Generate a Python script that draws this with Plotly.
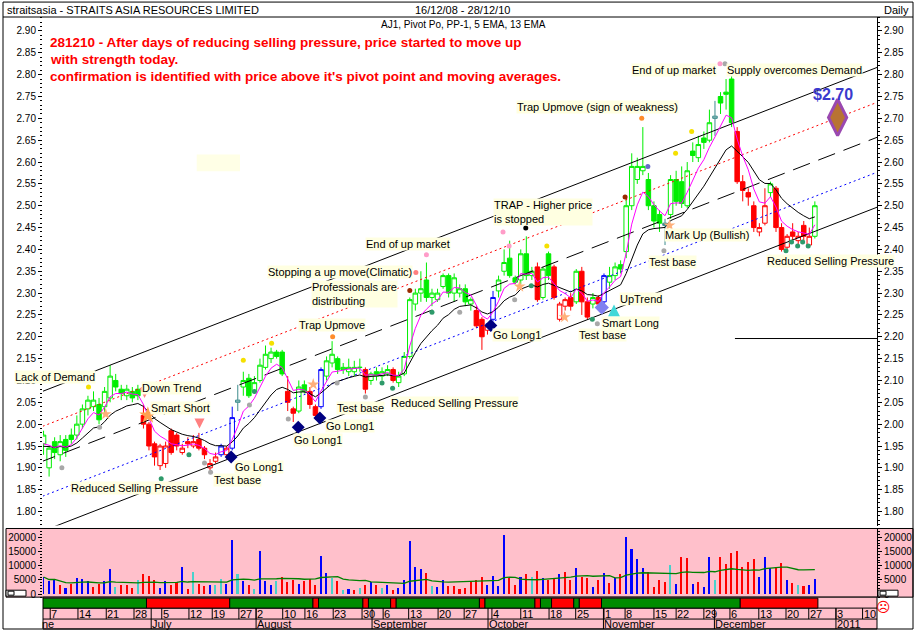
import plotly.graph_objects as go
import pandas as pd

# ---------------- data (candle index 0 = early June 2010 ... 140 = 28 Dec 2010)
opens = [1.915, 1.955, 1.90, 1.96, 1.93, 1.965, 1.975, 1.975, 2.00, 2.035,
         2.04, 2.045, 2.04, 2.06, 2.10, 2.08, 2.065, 2.075, 2.08, 2.02,
         2.00, 1.955, 1.905, 1.91, 1.985, 1.975, 1.935, 1.96, 1.95, 1.965,
         1.945, 1.90, 1.915, 1.93, 1.93, 1.945, 2.05, 2.085, 2.105, 2.075,
         2.10, 2.13, 2.15, 2.165, 2.165, 2.075, 2.035, 2.03, 2.09, 2.075,
         2.04, 2.04, 2.11, 2.14, 2.15, 2.125, 2.12, 2.12, 2.13, 2.125,
         2.10, 2.12, 2.11, 2.115, 2.125, 2.095, 2.115, 2.155, 2.275, 2.30,
         2.33, 2.29, 2.285, 2.315, 2.34, 2.30, 2.30, 2.31, 2.275, 2.26,
         2.24, 2.215, 2.24, 2.305, 2.35, 2.38, 2.335, 2.33, 2.39, 2.34,
         2.36, 2.29, 2.39, 2.36, 2.24, 2.27, 2.29, 2.28, 2.35, 2.28,
         2.275, 2.29, 2.28, 2.325, 2.34, 2.365, 2.395, 2.50, 2.56, 2.58,
         2.56, 2.50, 2.48, 2.46, 2.48, 2.56, 2.555, 2.50, 2.625, 2.61,
         2.655, 2.65, 2.70, 2.75, 2.76, 2.79, 2.67, 2.555, 2.53, 2.50,
         2.44, 2.46, 2.53, 2.54, 2.45, 2.405, 2.44, 2.42, 2.455, 2.41,
         2.43]
highs = [1.95, 1.985, 1.95, 1.97, 1.975, 1.975, 1.99, 2.02, 2.045, 2.065,
         2.075, 2.06, 2.085, 2.135, 2.115, 2.09, 2.09, 2.085, 2.09, 2.045,
         2.005, 1.96, 1.955, 1.96, 1.99, 1.98, 1.955, 1.97, 1.975, 1.98,
         1.95, 1.92, 1.935, 1.955, 1.95, 2.04, 2.09, 2.12, 2.115, 2.11,
         2.15, 2.18, 2.175, 2.17, 2.17, 2.11, 2.04, 2.10, 2.10, 2.085,
         2.045, 2.13, 2.155, 2.19, 2.155, 2.14, 2.15, 2.145, 2.15, 2.13,
         2.12, 2.13, 2.13, 2.135, 2.13, 2.12, 2.165, 2.29, 2.31, 2.35,
         2.37, 2.31, 2.31, 2.345, 2.345, 2.345, 2.32, 2.32, 2.29, 2.27,
         2.245, 2.23, 2.305, 2.34, 2.40, 2.42, 2.34, 2.40, 2.43, 2.36,
         2.37, 2.36, 2.395, 2.365, 2.28, 2.29, 2.30, 2.355, 2.36, 2.29,
         2.30, 2.295, 2.345, 2.36, 2.37, 2.375, 2.515, 2.62, 2.61, 2.68,
         2.575, 2.51, 2.49, 2.47, 2.57, 2.58, 2.59, 2.60, 2.645, 2.66,
         2.67, 2.72, 2.74, 2.76, 2.79, 2.82, 2.68, 2.57, 2.54, 2.51,
         2.46, 2.54, 2.555, 2.545, 2.46, 2.435, 2.46, 2.44, 2.465, 2.45,
         2.51]
lows = [1.905, 1.93, 1.88, 1.92, 1.915, 1.925, 1.955, 1.965, 1.99, 2.02,
        2.03, 2.00, 2.025, 2.05, 2.075, 2.055, 2.055, 2.05, 2.055, 1.99,
        1.94, 1.905, 1.895, 1.90, 1.93, 1.94, 1.93, 1.945, 1.945, 1.94,
        1.92, 1.895, 1.91, 1.925, 1.92, 1.94, 2.03, 2.065, 2.06, 2.07,
        2.095, 2.125, 2.14, 2.15, 2.11, 2.03, 2.005, 2.025, 2.07, 2.035,
        2.01, 2.035, 2.10, 2.13, 2.115, 2.115, 2.11, 2.11, 2.12, 2.07,
        2.09, 2.10, 2.10, 2.11, 2.095, 2.085, 2.11, 2.15, 2.26, 2.28,
        2.28, 2.27, 2.28, 2.31, 2.29, 2.28, 2.29, 2.27, 2.26, 2.22,
        2.17, 2.205, 2.235, 2.29, 2.34, 2.335, 2.32, 2.32, 2.33, 2.33,
        2.28, 2.285, 2.33, 2.285, 2.235, 2.26, 2.26, 2.275, 2.25, 2.24,
        2.265, 2.265, 2.275, 2.31, 2.33, 2.345, 2.38, 2.49, 2.55, 2.57,
        2.49, 2.45, 2.44, 2.41, 2.47, 2.50, 2.495, 2.495, 2.60, 2.60,
        2.63, 2.645, 2.66, 2.71, 2.72, 2.68, 2.55, 2.51, 2.50, 2.44,
        2.43, 2.455, 2.52, 2.44, 2.395, 2.40, 2.42, 2.41, 2.42, 2.405,
        2.425]
closes = [1.945, 1.975, 1.945, 1.935, 1.96, 1.94, 1.965, 2.00, 2.035, 2.055,
          2.055, 2.01, 2.075, 2.11, 2.085, 2.07, 2.08, 2.06, 2.065, 2.00,
          1.95, 1.925, 1.95, 1.95, 1.935, 1.95, 1.945, 1.955, 1.96, 1.945,
          1.93, 1.91, 1.925, 1.95, 1.945, 2.015, 2.055, 2.10, 2.065, 2.095,
          2.135, 2.16, 2.165, 2.155, 2.115, 2.05, 2.025, 2.085, 2.075, 2.045,
          2.02, 2.125, 2.145, 2.16, 2.125, 2.13, 2.13, 2.13, 2.13, 2.08,
          2.115, 2.11, 2.12, 2.125, 2.10, 2.11, 2.155, 2.285, 2.30, 2.31,
          2.29, 2.30, 2.30, 2.34, 2.30, 2.335, 2.31, 2.28, 2.285, 2.225,
          2.20, 2.225, 2.29, 2.33, 2.37, 2.34, 2.325, 2.39, 2.34, 2.35,
          2.285, 2.355, 2.34, 2.29, 2.275, 2.285, 2.27, 2.35, 2.28, 2.245,
          2.29, 2.275, 2.34, 2.34, 2.36, 2.355, 2.50, 2.59, 2.59, 2.59,
          2.50, 2.465, 2.46, 2.455, 2.56, 2.51, 2.505, 2.58, 2.615, 2.64,
          2.645, 2.69, 2.705, 2.735, 2.755, 2.69, 2.555, 2.535, 2.52, 2.45,
          2.45, 2.50, 2.55, 2.45, 2.40, 2.43, 2.43, 2.43, 2.43, 2.43,
          2.50]
candle_group = ("b" + "g" * 18 + "r" * 14 + "b" + "r" + "b" + "t" + "g" * 8 + "r" * 2
                + "g" * 2 + "r" * 2 + "b" + "g" * 7 + "r" + "g" * 4 + "r" + "g" * 14
                + "r" * 3 + "b" + "g" * 7 + "r" + "g" * 2 + "r" * 4 + "g" + "r" * 2
                + "g" + "r" + "b" + "g" * 10 + "t" + "g" * 8 + "t" + "g" * 3 + "r" * 6
                + "g" + "r" * 7 + "g")

volume = [None, 6050, 4300, 5200, 2900, 2000, 3250, 5450, 5100, 4300, 2300,
          3250, 4300, 8700, 2200, 2900, 2900, 2000, 4900, 7000, 6400,
          4900, 2000, 4300, 3100, 4000, 9500, 1600, 7800, 3500, 2550,
          3100, 3100, 5200, 3500, 18800, 7000, 4300, 3100, 1750, 15100,
          4300, 3100, 4300, 6000, 4000, 4650, 3500, 4300, 5100, 3100,
          13300, 7450, 5450, 4300, 1400, 1600, 1150, 2000, 3100, 4000,
          3100, 2000, 2900, 1400, 2000, 4900, 18600, 9300, 8600, 7450,
          2550, 2200, 4650, 2550, 2550, 1600, 2000, 4000, 4900, 6000,
          2900, 6400, 2550, 20800, 5700, 3100, 6000, 7000, 6000, 8100,
          5450, 4650, 5700, 6850, 7800, 4650, 9200, 6000, 5450, 2200,
          4650, 7450, 3700, 5700, 7000, 20000, 15600, 12100, 8950, 7800,
          2300, 4650, 4000, 10100, 3400, 13000, 12700, 3250, 4000, 2300,
          12800, 4650, 13000, 10300, 14400, 15100, 9500, 11300, 12400, 6000,
          12800, 8950, 9300, 10900, 4650, 3700, 2900, 2550, 2900, 5100]
volume_group = ("-" + "bbbrbrbbbr" + "rbbcrrrcrr" + "rbbrrbrcrr" + "bccbbcbrcb"
                + "bbcrrrbrrr" + "bbcrcbrcrb" + "rcbrbbbbbr" + "cbbrrrrrrr"
                + "bbbbrrbrcr" + "brrbrrbrrb" + "rbrbrbbbbr" + "rrrcbrrbrb"
                + "bcrrrrrrrb" + "bbrrbrcrbb")

trend = ("-" + "g" * 19 + "r" * 15 + "g" * 15 + "r" + "g" * 8 + "r" + "g" * 4 + "r"
         + "g" * 15 + "r" + "g" * 9 + "r" + "g" * 2 + "r" * 4 + "g" + "r" * 4
         + "g" * 25 + "r" * 14)

assert len(opens) == len(highs) == len(lows) == len(closes) == 141
assert len(candle_group) == 141 and len(volume) == 141 and len(volume_group) == 141 and len(trend) == 141

# regression channel (centre line end points) and band offsets
channel_x = [0.0, 151.7]
channel_mid = [1.911, 2.659]
channel_offsets = [0.16, 0.08, 0.0, -0.08, -0.16]
pivot_level = 2.196
pivot_from = 125.6

# signal markers
sig_x = [9.1, 37, 42.1, 91.7, 114.9, 117.8,
         4.3, 11.1, 30, 31.1, 38.1, 45.1, 53.9, 59, 76, 85.9, 100.8, 112.8, 123.8,
         22.2, 27.2, 39, 62, 63.9, 71, 88.9, 99.9, 134.8, 135.8, 136.9, 137.8, 138.8,
         53.1, 108.8,
         12.2, 49.6, 86.8, 94.9, 113.8,
         83.8, 84.9, 70, 122.9, 68.1, 67, 105.8, 87.9, 109.9]
sig_y = [2.085, 2.146, 2.185, 2.408, 2.62, 2.67,
         1.90, 1.993, 1.911, 1.89, 2.044, 2.012, 2.094, 2.062, 2.256, 2.285, 2.23, 2.397, 2.825,
         1.875, 1.93, 2.075, 2.094, 2.082, 2.256, 2.317, 2.24, 2.397, 2.417, 2.408, 2.417, 2.408,
         2.20, 2.70,
         2.023, 2.091, 2.315, 2.245, 2.455,
         2.44, 2.408, 2.388, 2.825, 2.347, 2.306, 2.52, 2.449, 2.59]
sig_kind = (["yellow"] * 6 + ["gray"] * 13 + ["green"] * 13 + ["orange"] * 2
            + ["star"] * 5 + ["pink"] * 4 + ["salmon"] + ["darkred"] * 2 + ["black"] + ["slate"])

golong_x = [34.8, 46.9, 50.8, 81.6]
golong_y = [1.925, 1.993, 2.014, 2.226]
smartlong_x, smartlong_y = [101.6], [2.267]
uptrend_x, uptrend_y = [103.8], [2.274]
downarrow_x, downarrow_y = [19.2, 29.1], [2.06, 1.99]
smartshort_x, smartshort_y = [19.8], [2.02]
target_x, target_y = [144.1], [2.702]

labels = [
    ("Lack of Demand", 3.1, 2.109), ("Down Trend", 24.1, 2.082), ("Smart Short", 25.6, 2.037),
    ("Reduced Selling Pressure", 17.3, 1.854), ("Test base", 36.0, 1.873), ("Go Long1", 39.8, 1.902),
    ("Go Long1", 50.5, 1.964), ("Go Long1", 56.2, 1.996), ("Test base", 58.2, 2.037),
    ("Reduced Selling Pressure", 75.1, 2.048), ("Trap Upmove", 53.0, 2.228),
    ("Professionals are<br>distributing", 57.1, 2.299),
    ("Stopping a up move(Climatic)", 54.4, 2.349), ("End of up market", 66.7, 2.413),
    ("TRAP - Higher price<br>is stopped", 91.0, 2.485), ("Go Long1", 86.3, 2.205),
    ("Test base", 101.8, 2.203), ("Smart Long", 106.8, 2.232), ("UpTrend", 108.6, 2.287),
    ("Test base", 114.4, 2.372), ("Mark Up (Bullish)", 120.5, 2.433),
    ("Trap Upmove (sign of weakness)", 100.9, 2.725), ("End of up market", 114.6, 2.811),
    ("Supply overcomes Demand", 136.4, 2.811), ("Reduced Selling Pressure", 142.9, 2.374),
]
comment_lines = [
    "281210 - After days of reducing selling pressure, price started to move up",
    "with strength today.",
    "confirmation is identified with price above it's pivot point and moving averages.",
]
day_tick_pos = [2.2, 7.2, 12.3, 17.3, 22.3, 27.2, 31.4, 36.2, 39.3, 44.1, 48.1, 53.2, 58.4, 62.2,
                66.8, 72.1, 76.8, 81.8, 87.0, 92.1, 96.9, 102.0, 105.8, 111.0, 115.0, 120.0,
                124.7, 129.9, 134.8, 138.9, 143.8, 148.6]
day_tick_text = ["7", "14", "21", "28", "5", "12", "19", "27", "2", "10", "16", "23", "30", "6",
                 "13", "20", "27", "4", "11", "18", "25", "1", "8", "15", "22", "29",
                 "6", "13", "20", "27", "3", "10"]
month_pos = [20.4, 39.3, 60.2, 81.1, 101.9, 121.9, 143.8]
month_text = ["July", "August", "September", "October", "November", "December", "2011"]
vol_ticks = [0, 5000, 10000, 15000, 20000]

# ---------------- figure
XMIN, XMAX = 0.9, 151.2
W, H, L, R, T, B = 917, 634, 43, 40, 17, 2
PW, PH = W - L - R, H - T - B


def px(xp):
    return (xp - L) / PW


def py(yp):
    return (H - B - yp) / PH


FONT = "Liberation Sans"
fig = go.Figure()

styles = [("black", "solid"), ("red", "2px,3px"), ("black", "18px,9px"), ("blue", "2px,3px"), ("black", "solid")]
for off, (col, dash) in zip(channel_offsets, styles):
    fig.add_trace(go.Scatter(x=channel_x, y=[channel_mid[0] + off, channel_mid[1] + off], mode="lines",
                             line=dict(color=col, width=1, dash=dash), hoverinfo="skip"))
fig.add_trace(go.Scatter(x=[pivot_from, XMAX], y=[pivot_level, pivot_level], mode="lines",
                         line=dict(color="black", width=1), hoverinfo="skip"))

group_colors = {"g": "#00EE00", "r": "#FF0000", "b": "#0000FF", "t": "#3C8C8C"}
for code, col in group_colors.items():
    ids = [i for i, c in enumerate(candle_group) if c == code]
    fig.add_trace(go.Candlestick(
        x=ids, open=[opens[i] for i in ids], high=[highs[i] for i in ids],
        low=[lows[i] for i in ids], close=[closes[i] for i in ids],
        increasing=dict(line=dict(color=col, width=1), fillcolor="white"),
        decreasing=dict(line=dict(color=col, width=1), fillcolor=col),
        whiskerwidth=0, hoverinfo="skip"))

cs = pd.Series(closes)
ema5 = cs.ewm(span=5, adjust=False).mean()
ema13 = cs.ewm(span=13, adjust=False).mean()
xs = list(range(len(closes)))
fig.add_trace(go.Scatter(x=xs, y=ema13, mode="lines", line=dict(color="black", width=1), hoverinfo="skip"))
fig.add_trace(go.Scatter(x=xs, y=ema5, mode="lines", line=dict(color="#FF00FF", width=1), hoverinfo="skip"))

kind_style = {"yellow": ("#F5E000", "circle", 5), "gray": ("#A8A8A8", "circle", 5),
              "green": ("#2E9A6A", "circle", 5), "orange": ("#FF8C2A", "circle", 5),
              "star": ("#FFB07A", "star", 9), "pink": ("#FF9CC8", "circle", 5),
              "salmon": ("#FF7F7F", "circle", 5), "darkred": ("#9A2A00", "circle", 5),
              "black": ("#000000", "circle", 5), "slate": ("#6A6AC8", "circle", 5)}
for kind, (col, sym, size) in kind_style.items():
    ids = [i for i, k in enumerate(sig_kind) if k == kind]
    fig.add_trace(go.Scatter(x=[sig_x[i] for i in ids], y=[sig_y[i] for i in ids], mode="markers",
                             marker=dict(color=col, symbol=sym, size=size, line=dict(width=0)),
                             hoverinfo="skip"))
fig.add_trace(go.Scatter(x=golong_x, y=golong_y, mode="markers",
                         marker=dict(color="#000080", symbol="diamond", size=10), hoverinfo="skip"))
fig.add_trace(go.Scatter(x=smartlong_x, y=smartlong_y, mode="markers",
                         marker=dict(color="#8080F0", symbol="diamond", size=11), hoverinfo="skip"))
fig.add_trace(go.Scatter(x=uptrend_x, y=uptrend_y, mode="markers",
                         marker=dict(color="#40D8D8", symbol="arrow-up", size=12), hoverinfo="skip"))
fig.add_trace(go.Scatter(x=downarrow_x, y=downarrow_y, mode="markers",
                         marker=dict(color="#FF8080", symbol="arrow-down", size=10), hoverinfo="skip"))
fig.add_trace(go.Scatter(x=smartshort_x, y=smartshort_y, mode="markers",
                         marker=dict(color="#FFA050", symbol="star", size=13), hoverinfo="skip"))
fig.add_trace(go.Scatter(x=target_x, y=target_y, mode="markers",
                         marker=dict(color="#B87333", symbol="diamond-tall", size=26,
                                     line=dict(color="#9A48B0", width=3)), hoverinfo="skip"))
fig.add_trace(go.Scatter(x=[XMAX], y=[2.0], yaxis="y2", mode="markers", marker=dict(opacity=0), hoverinfo="skip"))

# volume
vol_colors = {"b": "#0000FF", "r": "#FF0000", "c": "#48D1CC"}
vids = [i for i, v in enumerate(volume) if v is not None]
fig.add_trace(go.Bar(x=vids, y=[volume[i] for i in vids], yaxis="y3", width=0.28,
                     marker=dict(color=[vol_colors[volume_group[i]] for i in vids], line=dict(width=0)),
                     hoverinfo="skip"))
vol_ma = pd.Series([float("nan") if v is None else v for v in volume]).rolling(20, min_periods=1).mean()
fig.add_trace(go.Scatter(x=xs, y=vol_ma, yaxis="y3", mode="lines", line=dict(color="#008000", width=1.3),
                         hoverinfo="skip"))
fig.add_trace(go.Scatter(x=[XMAX], y=[0], yaxis="y4", mode="markers", marker=dict(opacity=0), hoverinfo="skip"))

# ---------------- shapes
shapes = []
shapes.append(dict(type="rect", xref="paper", yref="paper", x0=px(6), x1=px(913), y0=py(600), y1=py(531),
                   fillcolor="#FFC0CB", line=dict(color="black", width=1), layer="below"))
shapes.append(dict(type="rect", xref="paper", yref="paper", x0=px(43), x1=px(877), y0=py(632), y1=py(600),
                   fillcolor="#FFC0CB", line=dict(color="black", width=1), layer="below"))
for yy in (611, 622):
    shapes.append(dict(type="line", xref="paper", yref="paper", x0=px(43), x1=px(877), y0=py(yy), y1=py(yy),
                       line=dict(color="black", width=1)))
runs = []
i = 0
while i < len(trend):
    c = trend[i]
    j = i
    while j + 1 < len(trend) and trend[j + 1] == c:
        j += 1
    if c != "-":
        runs.append((i, j, c))
    i = j + 1
for a, b_, c in runs:
    shapes.append(dict(type="rect", xref="x", yref="paper", x0=max(a - 0.45, XMIN), x1=b_ + 0.55,
                       y0=py(611), y1=py(601),
                       fillcolor="#008C00" if c == "g" else "#FF0000", line=dict(color="black", width=1)))
for p in day_tick_pos:
    shapes.append(dict(type="line", xref="x", yref="paper", x0=p, x1=p, y0=py(622), y1=py(611),
                       line=dict(color="black", width=1)))
for p in month_pos:
    shapes.append(dict(type="line", xref="x", yref="paper", x0=p, x1=p, y0=py(632), y1=py(611),
                       line=dict(color="black", width=1)))
shapes.append(dict(type="rect", xref="x", yref="y", x0=28.6, x1=36.4, y0=2.579, y1=2.617,
                   fillcolor="#FFFFE6", line=dict(width=0), layer="below"))
for x0p in (6, 878):
    shapes.append(dict(type="rect", xref="paper", yref="paper", x0=px(x0p), x1=px(x0p + 20), y0=py(599),
                       y1=py(593), fillcolor="white", line=dict(color="black", width=1)))
    shapes.append(dict(type="rect", xref="paper", yref="paper", x0=px(x0p + 2), x1=px(x0p + 8), y0=py(598),
                       y1=py(594), fillcolor="white", line=dict(color="black", width=1)))
shapes.append(dict(type="rect", xref="paper", yref="paper", x0=px(3), x1=px(913), y0=py(632), y1=py(2),
                   line=dict(color="black", width=1)))
shapes.append(dict(type="line", xref="paper", yref="paper", x0=px(3), x1=px(913), y0=py(17), y1=py(17),
                   line=dict(color="black", width=1)))

# ---------------- annotations
ann = []
for text, x, y in labels:
    ann.append(dict(text=text, x=x, y=y, xref="x", yref="y", showarrow=False, align="left",
                    font=dict(family=FONT, size=11, color="black"), bgcolor="#FFFFE1", borderpad=0))
ann.append(dict(text="<b>$2.70</b>", x=143.2, y=2.754, xref="x", yref="y", showarrow=False,
                font=dict(family=FONT, size=16, color="#3A3ACD")))
for line, yp in zip(comment_lines, (43, 60, 77)):
    ann.append(dict(text="<b>" + line + "</b>", x=px(48), y=py(yp), xref="paper", yref="paper",
                    xanchor="left", yanchor="middle", showarrow=False,
                    font=dict(family=FONT, size=13.5, color="#FF0000")))
ann.append(dict(text="straitsasia - STRAITS ASIA RESOURCES LIMITED", x=px(5), y=py(9.5), xref="paper",
                yref="paper", xanchor="left", yanchor="middle", showarrow=False,
                font=dict(family=FONT, size=11, color="black")))
ann.append(dict(text="16/12/08 - 28/12/10", x=px(462), y=py(9.5), xref="paper", yref="paper",
                xanchor="center", yanchor="middle", showarrow=False, font=dict(family=FONT, size=11)))
ann.append(dict(text="Daily", x=px(911), y=py(9.5), xref="paper", yref="paper", xanchor="right",
                yanchor="middle", showarrow=False, font=dict(family=FONT, size=11)))
ann.append(dict(text="AJ1, Pivot Po, PP-1, 5 EMA, 13 EMA", x=px(463), y=py(25), xref="paper", yref="paper",
                xanchor="center", yanchor="middle", showarrow=False, font=dict(family=FONT, size=10)))
for p, t in zip(day_tick_pos, day_tick_text):
    ann.append(dict(text=t, x=p, y=py(616.5), xref="x", yref="paper", xanchor="left", yanchor="middle",
                    xshift=-1, showarrow=False, font=dict(family=FONT, size=11)))
for p, t in zip(month_pos, month_text):
    ann.append(dict(text=t, x=p, y=py(627), xref="x", yref="paper", xanchor="left", yanchor="middle",
                    xshift=-1, showarrow=False, font=dict(family=FONT, size=11)))
ann.append(dict(text="ne", x=px(40), y=py(627), xref="paper", yref="paper", xanchor="left", yanchor="middle",
                showarrow=False, font=dict(family=FONT, size=11)))
ann.append(dict(text="☹", x=px(893), y=py(620), xref="paper", yref="paper", showarrow=False,
                font=dict(family="DejaVu Sans", size=14, color="#FF0000")))

price_range = [1.768, 2.932]
vol_range = [-1053, 23158]
price_axis = dict(range=price_range, tickmode="linear", tick0=1.8, dtick=0.05, tickformat=".2f",
                  ticks="outside", ticklen=4, tickcolor="black", showgrid=False, zeroline=False,
                  tickfont=dict(family=FONT, size=10, color="black"),
                  minor=dict(dtick=0.01, tick0=1.8, ticks="outside", ticklen=2, tickcolor="black",
                             showgrid=False))
vol_axis = dict(range=vol_range, tickmode="array", tickvals=vol_ticks, ticktext=[str(v) for v in vol_ticks],
                ticks="outside", ticklen=4, tickcolor="black", showgrid=False, zeroline=False,
                tickfont=dict(family=FONT, size=10, color="black"),
                minor=dict(dtick=1000, tick0=0, ticks="outside", ticklen=2, tickcolor="black",
                           showgrid=False))

fig.update_layout(
    width=W, height=H, margin=dict(l=L, r=R, t=T, b=B, pad=0),
    paper_bgcolor="white", plot_bgcolor="rgba(0,0,0,0)", showlegend=False,
    font=dict(family=FONT, size=10, color="black"),
    xaxis=dict(domain=[0, 1], range=[XMIN, XMAX], anchor="y", visible=False, rangeslider=dict(visible=False)),
    yaxis=dict(domain=[py(528), 1], anchor="x", side="left", showline=False, **price_axis),
    yaxis2=dict(overlaying="y", anchor="x", side="right", showline=True, linecolor="black", linewidth=1,
                **price_axis),
    yaxis3=dict(domain=[py(600), py(531)], anchor="x", side="left", showline=False, **vol_axis),
    yaxis4=dict(overlaying="y3", anchor="x", side="right", showline=True, linecolor="black", linewidth=1,
                **vol_axis),
    shapes=shapes, annotations=ann, bargap=0, boxgap=0.12, boxgroupgap=0.08,
)
fig.write_html("out.html", config={"displayModeBar": False},
               post_script="document.body.style.margin='0px';document.body.style.padding='0px';")
